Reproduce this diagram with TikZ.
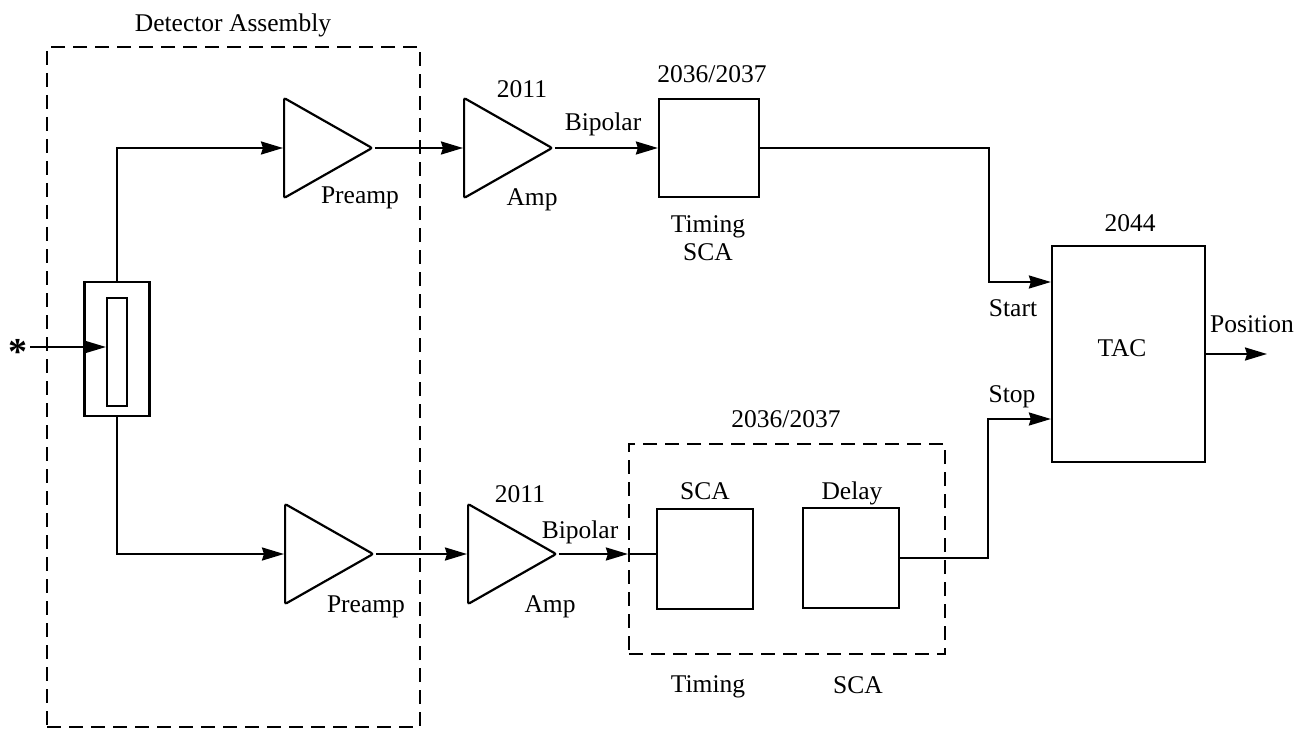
\documentclass[tikz,border=0pt]{standalone}
\usepackage{fontspec}
\setmainfont{Liberation Serif}
\usetikzlibrary{arrows.meta,shapes.geometric}

\tikzset{
  wire/.style={line width=2.2pt},
  sig/.style={wire, -{Stealth[length=22pt,width=13pt,inset=2pt]}},
  % the triangle points right: its height runs along the apex, its width along the base
  amp/.style={draw, line width=2.2pt, isosceles triangle, isosceles triangle stretches,
    minimum height=88pt, minimum width=100pt, rounded corners=2pt, anchor=lower side},
  box/.style={draw, line width=2.2pt, rectangle},
  group/.style={draw, line width=2.2pt, dash pattern=on 14pt off 8pt, rectangle},
  lbl/.style={anchor=base}
}

\begin{document}
\begin{tikzpicture}[x=1pt,y=-1pt,
  every node/.style={font=\fontsize{25.5}{30}\selectfont, inner sep=0pt}]
\useasboundingbox (0,0) rectangle (1298,730);

% detector assembly
\node[group, minimum width=373pt, minimum height=680pt] (detgrp) at (233.5,387) {};
\node[lbl] (tdet) at (233,32) {Detector Assembly};
\node[box, minimum width=65pt, minimum height=134pt] (det) at (117,349) {};
\node[box, minimum width=20pt, minimum height=108pt] (xtal) at (117,352) {};
\node[anchor=base, font=\fontsize{38}{38}\selectfont\bfseries] (star) at (18,364) {*};
\coordinate (beam) at (30,347);
\draw[sig] (beam) -- (beam -| xtal.west);

% preamplifiers
\node[amp] (pa1) at (283,148) {};
\node[amp] (pa2) at (284,554) {};
\draw[sig] (det.north) |- (pa1.lower side);
\draw[sig] (det.south) |- (pa2.lower side);
\node[lbl] (tpa1) at (360,204) {Preamp};
\node[lbl] (tpa2) at (366,612) {Preamp};

% amplifiers
\node[amp] (a1) at (463,148) {};
\node[amp] (a2) at (467,554) {};
\draw[sig] (pa1.apex) -- (a1.lower side);
\draw[sig] (pa2.apex) -- (a2.lower side);
\node[lbl] (ta1n) at (522,98) {2011};
\node[lbl] (ta1) at (532,206) {Amp};
\node[lbl] (tbp1) at (603,131) {Bipolar};
\node[lbl] (ta2n) at (520,502) {2011};
\node[lbl] (ta2) at (550,612) {Amp};
\node[lbl] (tbp2) at (580,538) {Bipolar};

% upper timing SCA
\node[box, minimum width=100pt, minimum height=98pt] (sca1) at (709,148) {};
\draw[sig] (a1.apex) -- (sca1.west);
\node[lbl] (tsca1n) at (712,83) {2036/2037};
\node[lbl] (tsca1a) at (708,233) {Timing};
\node[lbl] (tsca1b) at (708,260) {SCA};

% lower timing SCA with delay
\node[group, minimum width=316pt, minimum height=210pt] (grp) at (787,549) {};
\node[box, minimum width=96pt, minimum height=100pt] (sca2) at (705,559) {};
\node[box, minimum width=96pt, minimum height=100pt] (dly) at (851,558) {};
\draw[sig] (a2.apex) -- (grp.west |- a2.apex);
\draw[wire] (grp.west |- a2.apex) -- (sca2.west |- a2.apex);
\node[lbl] (tgrp) at (786,427) {2036/2037};
\node[lbl] (tsca2) at (705,499) {SCA};
\node[lbl] (tdly) at (852,499) {Delay};
\node[lbl] (tgrpa) at (708,692) {Timing};
\node[lbl] (tgrpb) at (858,693) {SCA};

% time-to-amplitude converter
\node[box, minimum width=153pt, minimum height=216pt] (tac) at (1128.5,354) {};
\node[lbl] (ttacn) at (1130,232) {2044};
\node[lbl] (ttac) at (1122,356) {TAC};
\node[lbl] (tstart) at (1013,316) {Start};
\node[lbl] (tstop) at (1012,402) {Stop};
\node[lbl] (tpos) at (1252,332) {Position};

\coordinate (startbend) at (989,282);
\coordinate (stopbend) at (988,419);
\coordinate (posout) at (1267,354);
\draw[sig] (sca1.east) -| (startbend) -- (startbend -| tac.west);
\draw[sig] (dly.east) -| (stopbend) -- (stopbend -| tac.west);
\draw[sig] (tac.east) -- (posout);
\end{tikzpicture}
\end{document}
